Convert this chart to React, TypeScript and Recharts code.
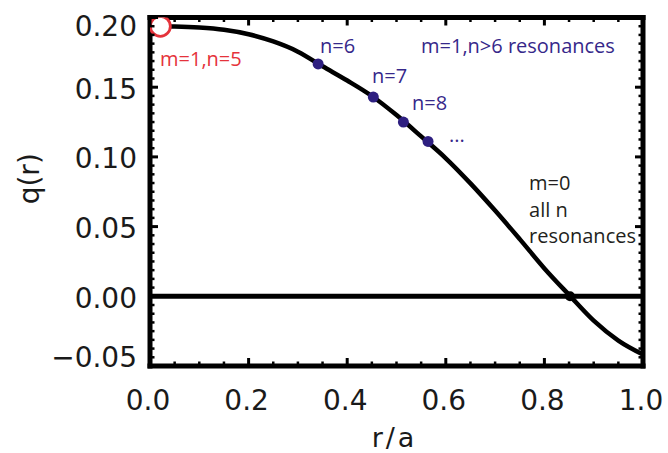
import { ComposedChart, Line, Scatter, XAxis, YAxis, ReferenceLine, ReferenceDot } from "recharts";

// q(r) profile
const rValues = [0, 0.05, 0.1, 0.15, 0.2, 0.25, 0.3, 0.35, 0.4, 0.45, 0.5, 0.55, 0.6, 0.65, 0.7, 0.75, 0.8, 0.85, 0.9, 0.95, 1.0];
const qValues = [0.1937, 0.1935, 0.1928, 0.1912, 0.188, 0.1828, 0.1755, 0.165, 0.1548, 0.1437, 0.13, 0.1147, 0.099, 0.081, 0.0615, 0.041, 0.02, 0.001, -0.0175, -0.0318, -0.0418];

// m=1 resonances n=6,7,8,9
const resonanceR = [0.341, 0.453, 0.514, 0.564];
const resonanceQ = [0.1667, 0.1429, 0.125, 0.1111];

const n5Point = [{ r: 0.021, q: 0.1937 }];
const zeroCrossing = [{ r: 0.852, q: 0 }];

const xMajorTicks = [0, 0.2, 0.4, 0.6, 0.8, 1.0];
const yMajorTicks = [-0.05, 0, 0.05, 0.1, 0.15, 0.2];
const xMinorDiv = 4;
const yMinorDiv = 8;

const annotations = [
  { r: 0.0203, q: 0.1654, text: "m=1,n=5", color: "#e5333b" },
  { r: 0.3448, q: 0.1747, text: "n=6", color: "#36288a" },
  { r: 0.5497, q: 0.1747, text: "m=1,n>6 resonances", color: "#36288a" },
  { r: 0.4503, q: 0.1532, text: "n=7", color: "#36288a" },
  { r: 0.5314, q: 0.1338, text: "n=8", color: "#36288a" },
  { r: 0.6065, q: 0.1108, text: "...", color: "#36288a" },
  { r: 0.7688, q: 0.0764, text: "m=0", color: "#231f20" },
  { r: 0.7688, q: 0.057, text: "all n", color: "#231f20" },
  { r: 0.7688, q: 0.0384, text: "resonances", color: "#231f20" },
];

const curveData = rValues.map((r, i) => ({ r, q: qValues[i] }));
const resonanceData = resonanceR.map((r, i) => ({ r, q: resonanceQ[i] }));

const withMinors = (majors: number[], div: number) => {
  const out: number[] = [];
  for (let i = 0; i < majors.length - 1; i++) {
    const step = (majors[i + 1] - majors[i]) / div;
    for (let k = 0; k < div; k++) out.push(Number((majors[i] + k * step).toFixed(6)));
  }
  out.push(majors[majors.length - 1]);
  return out;
};

const xTicks = withMinors(xMajorTicks, xMinorDiv);
const yTicks = withMinors(yMajorTicks, yMinorDiv);

const isMajor = (v: number, majors: number[]) => majors.some((m) => Math.abs(m - v) < 1e-6);

const tickFont = { fontFamily: "DejaVu Sans", fontSize: 28, fill: "#1a1a1a" };

const makeTick = (side: "left" | "right" | "top" | "bottom", majors: number[], showLabel: boolean) => (props: any) => {
  const { x, y, payload } = props;
  const v = payload.value;
  const major = isMajor(v, majors);
  const len = major ? 8 : 4.5;
  const w = major ? 3 : 2.5;
  let line;
  if (side === "left") line = <line x1={x} y1={y} x2={x + len} y2={y} stroke="#000" strokeWidth={w} />;
  else if (side === "right") line = <line x1={x} y1={y} x2={x - len} y2={y} stroke="#000" strokeWidth={w} />;
  else if (side === "top") line = <line x1={x} y1={y} x2={x} y2={y + len} stroke="#000" strokeWidth={w} />;
  else line = <line x1={x} y1={y} x2={x} y2={y - len} stroke="#000" strokeWidth={w} />;
  let label = null;
  if (showLabel && major) {
    const txt = v < 0 ? "\u2212" + Math.abs(v).toFixed(side === "left" ? 2 : 1) : v.toFixed(side === "left" ? 2 : 1);
    if (side === "left") {
      let dy = 2;
      if (Math.abs(v - 0.2) < 1e-6) dy = 9;
      if (Math.abs(v + 0.05) < 1e-6) dy = -9;
      label = (
        <text x={x - 13} y={y + dy} textAnchor="end" dominantBaseline="central" {...tickFont}>
          {txt}
        </text>
      );
    } else {
      label = (
        <text x={x - 2} y={y + 34} textAnchor="middle" dominantBaseline="central" {...tickFont}>
          {txt}
        </text>
      );
    }
  }
  return (
    <g>
      {line}
      {label}
    </g>
  );
};

const axisLine = { stroke: "#000", strokeWidth: 5, strokeLinecap: "square" as const };

const App = () => {
  return (
    <div style={{ position: "absolute", left: 0, top: 0 }}>
      <ComposedChart
        width={668}
        height={453}
        data={curveData}
        margin={{ top: 16.5, right: 24, bottom: 86, left: 149 }}
      >
        <XAxis
          dataKey="r"
          type="number"
          domain={[0, 1]}
          allowDataOverflow
          ticks={xTicks}
          interval={0}
          tickSize={0}
          tickMargin={0}
          height={1}
          axisLine={axisLine}
          tickLine={false}
          tick={makeTick("bottom", xMajorTicks, true)}
          label={(p: any) => (
            <text
              x={p.viewBox.x + p.viewBox.width / 2 - 2}
              y={p.viewBox.y + 71}
              textAnchor="middle"
              dominantBaseline="central"
              letterSpacing={3}
              {...tickFont}
              fontSize={27}
            >
              r/a
            </text>
          )}
        />
        <XAxis
          xAxisId="top"
          orientation="top"
          dataKey="r"
          type="number"
          domain={[0, 1]}
          allowDataOverflow
          ticks={xTicks}
          interval={0}
          tickSize={0}
          tickMargin={0}
          height={1}
          axisLine={axisLine}
          tickLine={false}
          tick={makeTick("top", xMajorTicks, false)}
        />
        <YAxis
          type="number"
          domain={[-0.05, 0.2]}
          allowDataOverflow
          ticks={yTicks}
          interval={0}
          tickSize={0}
          tickMargin={0}
          width={1}
          axisLine={axisLine}
          tickLine={false}
          tick={makeTick("left", yMajorTicks, true)}
          label={(p: any) => {
            const cx = p.viewBox.x - 120;
            const cy = p.viewBox.y + p.viewBox.height / 2 - 13;
            return (
              <text
                x={cx}
                y={cy}
                textAnchor="middle"
                dominantBaseline="central"
                transform={`rotate(-90 ${cx} ${cy})`}
                {...tickFont}
              >
                q(r)
              </text>
            );
          }}
        />
        <YAxis
          yAxisId="right"
          orientation="right"
          type="number"
          domain={[-0.05, 0.2]}
          allowDataOverflow
          ticks={yTicks}
          interval={0}
          tickSize={0}
          tickMargin={0}
          width={1}
          axisLine={axisLine}
          tickLine={false}
          tick={makeTick("right", yMajorTicks, false)}
        />
        <ReferenceLine y={0} stroke="#000" strokeWidth={5} />
        <Line
          dataKey="q"
          type="monotone"
          stroke="#000"
          strokeWidth={4.5}
          dot={false}
          activeDot={false}
          isAnimationActive={false}
        />
        <Scatter
          data={resonanceData}
          dataKey="q"
          isAnimationActive={false}
          shape={(p: any) => <circle cx={p.cx} cy={p.cy} r={5.5} fill="#2e1f80" />}
        />
        <Scatter
          data={zeroCrossing}
          dataKey="q"
          isAnimationActive={false}
          shape={(p: any) => <circle cx={p.cx} cy={p.cy} r={5} fill="#000" />}
        />
        <Scatter
          data={n5Point}
          dataKey="q"
          isAnimationActive={false}
          shape={(p: any) => (
            <circle cx={p.cx} cy={p.cy} r={10} fill="#fff" stroke="#e5333b" strokeWidth={2.8} />
          )}
        />
        {annotations.map((a) => (
          <ReferenceDot
            key={a.text}
            x={a.r}
            y={a.q}
            r={0}
            fill="none"
            stroke="none"
            label={(p: any) => (
              <text
                x={p.viewBox.x}
                y={p.viewBox.y}
                fill={a.color}
                fontFamily="Open Sans"
                fontSize={20}
              >
                {a.text}
              </text>
            )}
          />
        ))}
      </ComposedChart>
    </div>
  );
};

export default App;
